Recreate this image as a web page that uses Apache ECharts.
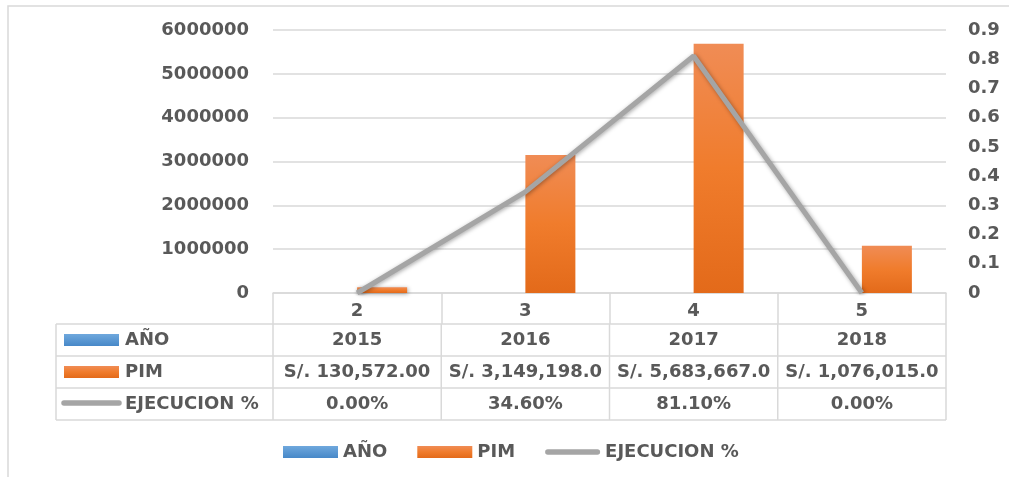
<!DOCTYPE html>
<html>
<head>
<meta charset="utf-8">
<script src="https://cdn.jsdelivr.net/npm/echarts@6/dist/echarts.min.js"></script>
<style>
  html, body { margin: 0; padding: 0; background: #fff; }
  #chart { width: 1009px; height: 477px; }
</style>
</head>
<body>
<div id="chart"></div>
<script>
const categories = ["2", "3", "4", "5"];
const years = [2015, 2016, 2017, 2018];
const pim = [130572, 3149198, 5683667, 1076015];
const pimLabels = ["S/. 130,572.00", "S/. 3,149,198.0", "S/. 5,683,667.0", "S/. 1,076,015.0"];
const ejecucion = [0, 0.346, 0.811, 0];
const seriesNames = ["AÑO", "PIM", "EJECUCION %"];

const textColor = "#595959";
const gridColor = "#d9d9d9";
const font = "DejaVu Sans";
const fs = 18;

const gridLeft = 273, gridRight = 946, gridTop = 30, axisY = 293;

let myChart = echarts.init(document.getElementById("chart"));

const blueGrad = new echarts.graphic.LinearGradient(0, 0, 0, 1, [
  { offset: 0, color: "#6FA8DD" },
  { offset: 1, color: "#4788C8" },
]);
const orangeGrad = new echarts.graphic.LinearGradient(0, 0, 0, 1, [
  { offset: 0, color: "#F08C55" },
  { offset: 0.5, color: "#F07C2C" },
  { offset: 1, color: "#E36A1A" },
]);

// rounded thick line used as legend key for the line series
const lineIcon = "path://M3,0 L57,0 A3,3 0 0 1 57,6 L3,6 A3,3 0 0 1 3,0 Z";

let option = {
  animation: false,
  textStyle: { fontFamily: font, fontWeight: "bold", color: textColor },
  grid: {
    left: gridLeft,
    right: 1009 - gridRight,
    top: gridTop,
    bottom: 477 - axisY,
  },
  legend: {
    left: 278,
    top: 438,
    itemWidth: 55,
    itemHeight: 12,
    itemGap: 30,
    textStyle: { fontFamily: font, fontWeight: "bold", fontSize: fs, color: textColor },
    data: [
      { name: seriesNames[0], icon: "rect" },
      { name: seriesNames[1], icon: "rect" },
      { name: seriesNames[2], icon: lineIcon, itemStyle: { color: "#A5A5A5" } },
    ],
  },
  xAxis: {
    type: "category",
    data: categories,
    axisLine: { lineStyle: { color: gridColor, width: 1.5 } },
    axisTick: { show: true, length: 31, lineStyle: { color: gridColor, width: 1.5 } },
    axisLabel: { margin: 9, fontSize: fs, fontWeight: "bold", color: textColor, fontFamily: font },
  },
  yAxis: [
    {
      type: "value",
      min: 0,
      max: 6000000,
      interval: 1000000,
      axisLine: { show: false },
      axisTick: { show: false },
      splitLine: { lineStyle: { color: gridColor, width: 1.5 } },
      axisLabel: {
        margin: 24,
        fontSize: fs,
        fontWeight: "bold",
        color: textColor,
        fontFamily: font,
        formatter: function (v) {
          return String(v);
        },
      },
    },
    {
      type: "value",
      min: 0,
      max: 0.9,
      interval: 0.1,
      axisLine: { show: false },
      axisTick: { show: false },
      splitLine: { show: false },
      axisLabel: {
        margin: 22,
        fontSize: fs,
        fontWeight: "bold",
        color: textColor,
        fontFamily: font,
        formatter: function (v) {
          return v === 0 ? "0" : v.toFixed(1);
        },
      },
    },
  ],
  series: [
    {
      name: seriesNames[0],
      type: "bar",
      barWidth: 50,
      barGap: "0%",
      itemStyle: { color: blueGrad },
      data: years,
    },
    {
      name: seriesNames[1],
      type: "bar",
      barWidth: 50,
      barGap: "0%",
      itemStyle: {
        color: orangeGrad,
        shadowBlur: 4,
        shadowColor: "rgba(0,0,0,0.35)",
        shadowOffsetX: 1,
        shadowOffsetY: 1,
      },
      data: pim,
    },
    {
      name: seriesNames[2],
      type: "line",
      yAxisIndex: 1,
      symbol: "none",
      color: "#A5A5A5",
      lineStyle: {
        color: "#A5A5A5",
        width: 5,
        shadowBlur: 4,
        shadowColor: "rgba(0,0,0,0.35)",
        shadowOffsetX: 1,
        shadowOffsetY: 1,
      },
      data: ejecucion,
    },
  ],
};

myChart.setOption(option);

// data table under the axis
const rowTops = [324, 356, 388, 420];
const tableLeft = 56;
let graphics = [];

// outer chart border
graphics.push({
  type: "rect",
  shape: { x: 8, y: 6, width: 1200, height: 600 },
  style: { fill: "none", stroke: gridColor, lineWidth: 1.5 },
  silent: true,
});

rowTops.forEach((y) => {
  graphics.push({
    type: "line",
    shape: { x1: tableLeft, y1: y, x2: gridRight, y2: y },
    style: { stroke: gridColor, lineWidth: 1.5 },
  });
});
let colEdges = [tableLeft, gridLeft];
const step = (gridRight - gridLeft) / categories.length;
categories.forEach((c, i) => colEdges.push(gridLeft + step * (i + 1)));
colEdges.forEach((x) => {
  graphics.push({
    type: "line",
    shape: { x1: x, y1: rowTops[0], x2: x, y2: rowTops[3] },
    style: { stroke: gridColor, lineWidth: 1.5 },
  });
});

// legend keys in the table
graphics.push({
  type: "rect",
  shape: { x: 64, y: 334, width: 55, height: 12 },
  style: { fill: blueGrad },
});
graphics.push({
  type: "rect",
  shape: { x: 64, y: 366, width: 55, height: 12 },
  style: { fill: orangeGrad },
});
graphics.push({
  type: "line",
  shape: { x1: 64, y1: 403, x2: 119, y2: 403 },
  style: { stroke: "#A5A5A5", lineWidth: 5.5, lineCap: "round" },
});

const rowTexts = [
  years.map(String),
  pimLabels,
  ejecucion.map((v) => (v * 100).toFixed(2) + "%"),
];

seriesNames.forEach((name, r) => {
  const cy = (rowTops[r] + rowTops[r + 1]) / 2;
  graphics.push({
    type: "text",
    x: 125,
    y: cy,
    style: {
      text: name,
      fill: textColor,
      font: "bold " + fs + "px '" + font + "'",
      verticalAlign: "middle",
      align: "left",
    },
  });
  categories.forEach((c, i) => {
    const cx = myChart.convertToPixel({ xAxisIndex: 0 }, c);
    graphics.push({
      type: "text",
      x: cx,
      y: cy,
      style: {
        text: rowTexts[r][i],
        fill: textColor,
        font: "bold " + fs + "px '" + font + "'",
        verticalAlign: "middle",
        align: "center",
      },
    });
  });
});

myChart.setOption({ graphic: graphics });
</script>
</body>
</html>
